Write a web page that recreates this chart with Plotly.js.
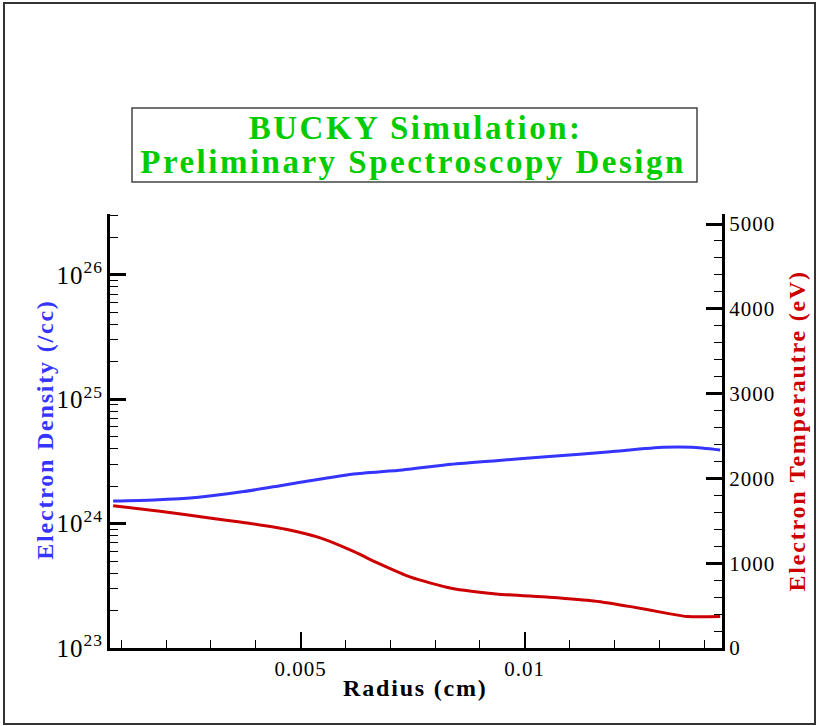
<!DOCTYPE html>
<html>
<head>
<meta charset="utf-8">
<script src="https://cdn.plot.ly/plotly-3.0.1.min.js"></script>
<style>
html,body{margin:0;padding:0;background:#fff;}
#chart{width:816px;height:726px;}
#chart .xtick text, #chart .ytick text, #chart .y2tick text { letter-spacing: 1px; }
#chart g.annotation[data-index="0"] text, #chart g.annotation[data-index="1"] text { letter-spacing: 2.5px; }
#chart g.annotation[data-index="2"] text, #chart g.annotation[data-index="3"] text, #chart g.annotation[data-index="4"] text { letter-spacing: 1.8px; }
</style>
</head>
<body>
<div id="chart"></div>
<script>
// Data
const radiusDensity = [0.00082, 0.001727, 0.002727, 0.003727, 0.004545, 0.005455, 0.006182, 0.007273, 0.008364, 0.009364, 0.010545, 0.011909, 0.013091, 0.013727, 0.01436];
const electronDensity = [1.52e24, 1.55e24, 1.63e24, 1.81e24, 2.02e24, 2.29e24, 2.51e24, 2.70e24, 3.0e24, 3.21e24, 3.46e24, 3.79e24, 4.11e24, 4.11e24, 3.91e24];
const radiusTemp = [0.00082, 0.00191, 0.003091, 0.003818, 0.004727, 0.005455, 0.006182, 0.006727, 0.007455, 0.008364, 0.009364, 0.010545, 0.011545, 0.012364, 0.013091, 0.013636, 0.01436];
const electronTemp = [1678, 1611, 1525, 1474, 1395, 1296, 1139, 1001, 835, 705, 638, 599, 555, 488, 417, 370, 370];
const xTickVals = [0.005, 0.01];
const xTickText = ['0.005', '0.01'];

const W = 816, H = 726;
const L = 110, R = 722, T = 214, B = 648;
const px = x => (x - L) / (R - L);
const py = y => (B - y) / (B - T);

const serif = '"Times New Roman", serif';
const blue = '#3535ff';
const red = '#cc0000';
const green = '#00cc00';

const traces = [
  {x: radiusDensity, y: electronDensity, type: 'scatter', mode: 'lines',
   line: {color: blue, width: 3, shape: 'spline', smoothing: 0.6}, yaxis: 'y', hoverinfo: 'skip'},
  {x: radiusTemp, y: electronTemp, type: 'scatter', mode: 'lines',
   line: {color: red, width: 3, shape: 'spline', smoothing: 0.6}, yaxis: 'y2', hoverinfo: 'skip'}
];

const layout = {
  width: W, height: H,
  margin: {l: L, r: W - R, t: T, b: H - B, pad: 0},
  paper_bgcolor: '#fff', plot_bgcolor: '#fff',
  showlegend: false,
  font: {family: serif, size: 20, color: '#000'},
  xaxis: {
    range: [0.00075, 0.0144], showgrid: false, zeroline: false,
    showline: true, linecolor: '#000', linewidth: 3, mirror: false,
    ticks: 'inside', ticklen: 16, tickwidth: 2, tickcolor: '#000',
    tickvals: xTickVals, ticktext: xTickText,
    tickfont: {family: serif, size: 21, color: '#000'},
    minor: {ticks: 'inside', ticklen: 8, tickwidth: 1, tickcolor: '#000', dtick: 0.001, tick0: 0, showgrid: false}
  },
  yaxis: {
    type: 'log', range: [23, 26.49], showgrid: false, zeroline: false,
    showline: true, linecolor: '#000', linewidth: 3,
    ticks: 'inside', ticklen: 16, tickwidth: 3, tickcolor: '#000',
    dtick: 1, exponentformat: 'power',
    tickfont: {family: serif, size: 20, color: '#000'},
    minor: {ticks: 'inside', ticklen: 8, tickwidth: 1, tickcolor: '#000', dtick: 'D1', showgrid: false}
  },
  yaxis2: {
    overlaying: 'y', side: 'right', anchor: 'x',
    range: [0, 5118], showgrid: false, zeroline: false,
    showline: true, linecolor: '#000', linewidth: 3,
    ticks: 'inside', ticklen: 16, tickwidth: 3, tickcolor: '#000',
    dtick: 1000, tick0: 0,
    tickfont: {family: serif, size: 21, color: '#000'},
    minor: {ticks: 'inside', ticklen: 8, tickwidth: 1, tickcolor: '#000', dtick: 200, showgrid: false}
  },
  shapes: [
    {type: 'rect', xref: 'paper', yref: 'paper', x0: px(4), x1: px(815), y0: py(3), y1: py(724),
     line: {color: '#333', width: 2}, fillcolor: 'rgba(0,0,0,0)', layer: 'below'},
    {type: 'rect', xref: 'paper', yref: 'paper', x0: px(132), x1: px(697), y0: py(108), y1: py(182),
     line: {color: '#444', width: 1.5}, fillcolor: 'rgba(0,0,0,0)'}
  ],
  annotations: [
    {text: '<b>BUCKY Simulation:</b>', xref: 'paper', yref: 'paper', x: px(415), y: py(128),
     xanchor: 'center', yanchor: 'middle', showarrow: false,
     font: {family: serif, size: 33, color: green}},
    {text: '<b>Preliminary Spectroscopy Design</b>', xref: 'paper', yref: 'paper', x: px(413), y: py(162),
     xanchor: 'center', yanchor: 'middle', showarrow: false,
     font: {family: serif, size: 33, color: green}},
    {text: '<b>Electron Density (/cc)</b>', xref: 'paper', yref: 'paper', x: px(45), y: py(430),
     xanchor: 'center', yanchor: 'middle', showarrow: false, textangle: -90,
     font: {family: serif, size: 24, color: blue}},
    {text: '<b>Electron Temperautre (eV)</b>', xref: 'paper', yref: 'paper', x: px(797), y: py(431),
     xanchor: 'center', yanchor: 'middle', showarrow: false, textangle: -90,
     font: {family: serif, size: 24, color: red}},
    {text: '<b>Radius (cm)</b>', xref: 'paper', yref: 'paper', x: px(415), y: py(688),
     xanchor: 'center', yanchor: 'middle', showarrow: false,
     font: {family: serif, size: 24, color: '#000'}}
  ]
};

Plotly.newPlot('chart', traces, layout, {displayModeBar: false});
</script>
</body>
</html>
